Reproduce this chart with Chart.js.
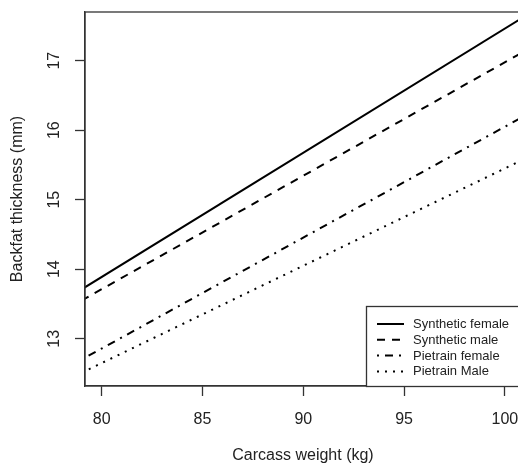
<!DOCTYPE html>
<html>
<head>
<meta charset="utf-8">
<script src="https://cdn.jsdelivr.net/npm/chart.js@4"></script>
<style>
  html, body { margin: 0; padding: 0; background: #fff; overflow: hidden; }
  canvas { display: block; }
</style>
</head>
<body>
<canvas id="backfatChart" width="522" height="465"></canvas>
<script>
// values (lines are straight, so two ends are enough)
const weights = [79, 101];
const syntheticFemale = [13.71, 17.64];
const syntheticMale = [13.55, 17.14];
const pietrainFemale = [12.70, 16.21];
const pietrainMale = [12.51, 15.59];

const seriesNames = ['Synthetic female', 'Synthetic male', 'Pietrain female', 'Pietrain Male'];
const seriesDashes = [[], [8, 7], [2, 6, 8, 6], [2, 6]];

const xTicks = [80, 85, 90, 95, 100];
const yTicks = [13, 14, 15, 16, 17];

const FONT = 'Arial, "Liberation Sans", sans-serif';
const INK = '#222';

function toPoints(values) {
  return weights.map((w, i) => ({ x: w, y: values[i] }));
}

const allSeries = [syntheticFemale, syntheticMale, pietrainFemale, pietrainMale];

// R style box, rotated y tick labels and the legend inside the plot
const boxPlugin = {
  id: 'boxPlugin',
  afterDraw(chart) {
    const ctx = chart.ctx;
    const area = chart.chartArea;
    const yScale = chart.scales.y;
    ctx.save();
    ctx.strokeStyle = '#333';
    ctx.lineWidth = 1.3;
    ctx.strokeRect(area.left, area.top, area.right - area.left, area.bottom - area.top);

    // y tick labels, reading bottom to top
    ctx.fillStyle = INK;
    ctx.font = '16px ' + FONT;
    ctx.textAlign = 'center';
    ctx.textBaseline = 'middle';
    yTicks.forEach(v => {
      const py = yScale.getPixelForValue(v);
      ctx.save();
      ctx.translate(55, py);
      ctx.rotate(-Math.PI / 2);
      ctx.fillText(String(v), 0, 0);
      ctx.restore();
    });

    // legend
    const lx = 366, ly = 306;
    ctx.fillStyle = '#fff';
    ctx.fillRect(lx, ly, 200, area.bottom - ly);
    ctx.strokeStyle = '#333';
    ctx.lineWidth = 1.3;
    ctx.strokeRect(lx + 0.5, ly + 0.5, 200, area.bottom - ly);
    ctx.font = '13px ' + FONT;
    ctx.textAlign = 'left';
    ctx.textBaseline = 'middle';
    seriesNames.forEach((name, i) => {
      const ry = 324 + i * 15.8;
      ctx.beginPath();
      ctx.setLineDash(seriesDashes[i]);
      ctx.lineWidth = 2;
      ctx.strokeStyle = '#000';
      ctx.moveTo(377, ry);
      ctx.lineTo(404, ry);
      ctx.stroke();
      ctx.setLineDash([]);
      ctx.fillStyle = INK;
      ctx.fillText(name, 413, ry + 0.5);
    });
    ctx.restore();
  }
};

new Chart(document.getElementById('backfatChart'), {
  type: 'scatter',
  data: {
    datasets: allSeries.map((vals, i) => ({
      label: seriesNames[i],
      data: toPoints(vals),
      showLine: true,
      borderColor: '#000',
      borderWidth: 2,
      borderDash: seriesDashes[i],
      pointRadius: 0,
      fill: false
    }))
  },
  options: {
    responsive: false,
    animation: false,
    devicePixelRatio: 1,
    layout: { padding: { top: 12, right: 1, left: 0, bottom: 0 } },
    plugins: {
      legend: { display: false },
      tooltip: { enabled: false }
    },
    scales: {
      x: {
        type: 'linear',
        min: 79.17,
        max: 100.8,
        afterFit(scale) {
          scale.height = 79;
          scale.paddingLeft = 0;
          scale.paddingRight = 0;
        },
        afterBuildTicks(scale) { scale.ticks = xTicks.map(v => ({ value: v })); },
        grid: { drawOnChartArea: false, drawTicks: true, tickLength: 10, tickColor: '#333', tickWidth: 1.3 },
        border: { display: true, color: '#333', width: 1.3 },
        ticks: { color: INK, font: { family: FONT, size: 16 }, padding: 14, maxRotation: 0 },
        title: {
          display: true,
          text: 'Carcass weight (kg)',
          color: INK,
          font: { family: FONT, size: 16 },
          padding: { top: 0, bottom: 0 }
        }
      },
      y: {
        type: 'linear',
        min: 12.32,
        max: 17.70,
        afterFit(scale) { scale.width = 85; },
        afterBuildTicks(scale) { scale.ticks = yTicks.map(v => ({ value: v })); },
        grid: { drawOnChartArea: false, drawTicks: true, tickLength: 10, tickColor: '#333', tickWidth: 1.3 },
        border: { display: true, color: '#333', width: 1.3 },
        ticks: { display: false },
        title: {
          display: true,
          text: 'Backfat thickness (mm)',
          color: INK,
          font: { family: FONT, size: 16 },
          padding: { top: 8, bottom: 0 }
        }
      }
    }
  },
  plugins: [boxPlugin]
});
</script>
</body>
</html>
